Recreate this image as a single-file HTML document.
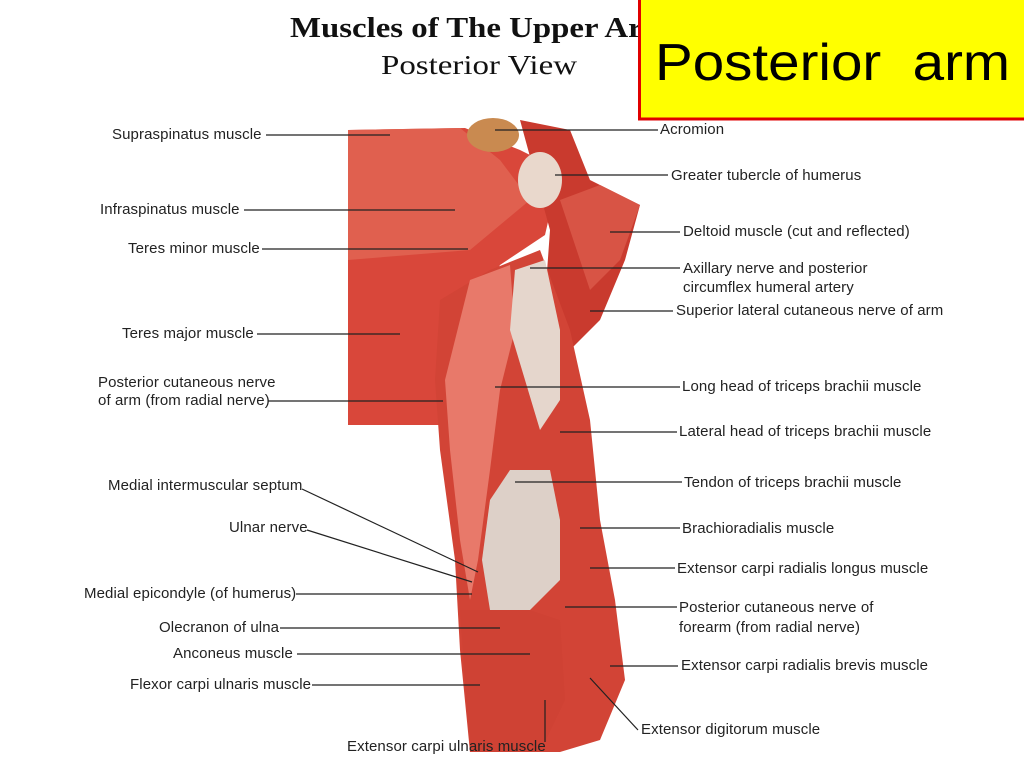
<!DOCTYPE html>
<html><head><meta charset="utf-8"><style>
body{margin:0;width:1024px;height:768px;background:#fff;overflow:hidden;position:relative;font-family:"Liberation Sans",sans-serif}
svg{position:absolute;left:0;top:0}
.l{font-size:15px;letter-spacing:0.1px;fill:#222}
</style></head><body>
<svg width="1024" height="768" viewBox="0 0 1024 768">
<text x="290" y="37" font-family="Liberation Serif" font-weight="bold" font-size="29" fill="#111" textLength="380" lengthAdjust="spacingAndGlyphs">Muscles of The Upper Arm</text>
<text x="381" y="74" font-family="Liberation Serif" font-size="27" fill="#111" textLength="196" lengthAdjust="spacingAndGlyphs">Posterior View</text>
<polygon points="348,130 465,128 520,150 560,170 545,235 500,265 480,300 470,360 445,425 348,425" fill="#d9473a"/>
<polygon points="348,130 460,128 500,160 530,200 470,250 348,260" fill="#e0604f"/>
<polygon points="520,120 570,130 590,180 640,205 625,260 600,320 560,360 545,300 550,230" fill="#c93a2e"/>
<polygon points="560,200 600,185 640,205 620,260 590,290" fill="#d85445"/>
<polygon points="440,300 490,270 540,250 570,330 590,420 600,520 615,600 625,680 600,740 560,752 470,752 460,650 455,560 440,450 435,380" fill="#d24436"/>
<polygon points="470,280 510,265 515,330 500,390 490,470 478,560 470,600 460,540 450,450 445,380" fill="#e8796a"/>
<polygon points="510,470 550,470 560,520 560,580 530,610 490,610 482,560 490,500" fill="#ddd0c8"/>
<polygon points="515,270 545,260 560,330 560,400 540,430 525,380 510,330" fill="#e5d6cc"/>
<polygon points="460,610 530,610 560,620 565,700 540,752 470,752" fill="#cf4234"/>
<ellipse cx="493" cy="135" rx="26" ry="17" fill="#c98a50"/>
<ellipse cx="540" cy="180" rx="22" ry="28" fill="#e9d8cc"/>
<g stroke="#222" stroke-width="1.2" fill="none">
<line x1="266" y1="135" x2="390" y2="135"/>
<line x1="495" y1="130" x2="658" y2="130"/>
<line x1="555" y1="175" x2="668" y2="175"/>
<line x1="244" y1="210" x2="455" y2="210"/>
<line x1="610" y1="232" x2="680" y2="232"/>
<line x1="262" y1="249" x2="468" y2="249"/>
<line x1="530" y1="268" x2="680" y2="268"/>
<line x1="590" y1="311" x2="673" y2="311"/>
<line x1="257" y1="334" x2="400" y2="334"/>
<line x1="268" y1="401" x2="443" y2="401"/>
<line x1="495" y1="387" x2="680" y2="387"/>
<line x1="560" y1="432" x2="677" y2="432"/>
<line x1="515" y1="482" x2="682" y2="482"/>
<line x1="302" y1="489" x2="478" y2="572"/>
<line x1="580" y1="528" x2="680" y2="528"/>
<line x1="307" y1="530" x2="472" y2="582"/>
<line x1="590" y1="568" x2="675" y2="568"/>
<line x1="296" y1="594" x2="472" y2="594"/>
<line x1="565" y1="607" x2="677" y2="607"/>
<line x1="280" y1="628" x2="500" y2="628"/>
<line x1="297" y1="654" x2="530" y2="654"/>
<line x1="610" y1="666" x2="678" y2="666"/>
<line x1="312" y1="685" x2="480" y2="685"/>
<line x1="590" y1="678" x2="638" y2="730"/>
<line x1="545" y1="700" x2="545" y2="742"/>
</g>
<text class="l" x="112" y="139">Supraspinatus muscle</text>
<text class="l" x="660" y="134">Acromion</text>
<text class="l" x="671" y="180">Greater tubercle of humerus</text>
<text class="l" x="100" y="214">Infraspinatus muscle</text>
<text class="l" x="683" y="236">Deltoid muscle (cut and reflected)</text>
<text class="l" x="128" y="253">Teres minor muscle</text>
<text class="l" x="683" y="273">Axillary nerve and posterior</text>
<text class="l" x="683" y="292">circumflex humeral artery</text>
<text class="l" x="676" y="315">Superior lateral cutaneous nerve of arm</text>
<text class="l" x="122" y="338">Teres major muscle</text>
<text class="l" x="98" y="387">Posterior cutaneous nerve</text>
<text class="l" x="98" y="405">of arm (from radial nerve)</text>
<text class="l" x="682" y="391">Long head of triceps brachii muscle</text>
<text class="l" x="679" y="436">Lateral head of triceps brachii muscle</text>
<text class="l" x="108" y="490">Medial intermuscular septum</text>
<text class="l" x="684" y="487">Tendon of triceps brachii muscle</text>
<text class="l" x="229" y="532">Ulnar nerve</text>
<text class="l" x="682" y="533">Brachioradialis muscle</text>
<text class="l" x="677" y="573">Extensor carpi radialis longus muscle</text>
<text class="l" x="84" y="598">Medial epicondyle (of humerus)</text>
<text class="l" x="679" y="612">Posterior cutaneous nerve of</text>
<text class="l" x="679" y="632">forearm (from radial nerve)</text>
<text class="l" x="159" y="632">Olecranon of ulna</text>
<text class="l" x="173" y="658">Anconeus muscle</text>
<text class="l" x="681" y="670">Extensor carpi radialis brevis muscle</text>
<text class="l" x="130" y="689">Flexor carpi ulnaris muscle</text>
<text class="l" x="641" y="734">Extensor digitorum muscle</text>
<text class="l" x="347" y="751">Extensor carpi ulnaris muscle</text>
<rect x="639.5" y="-3" width="390" height="122" fill="#ffff00" stroke="#e00000" stroke-width="3"/>
<text x="655" y="80" font-family="'Liberation Sans',sans-serif" font-size="52" fill="#000" textLength="355" lengthAdjust="spacingAndGlyphs" xml:space="preserve">Posterior  arm</text>
</svg>
</body></html>
